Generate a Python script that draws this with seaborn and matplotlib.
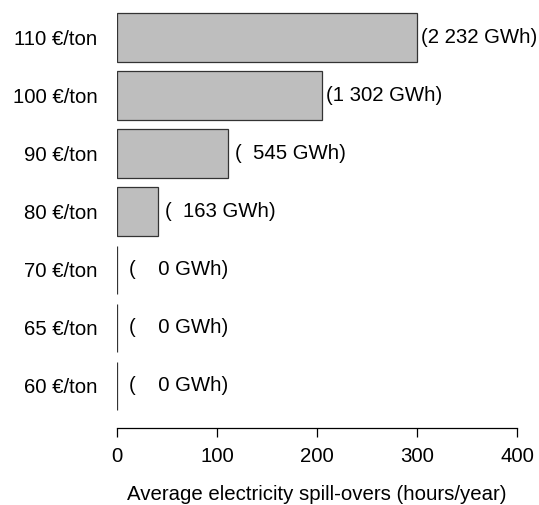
import pandas as pd
import seaborn as sns
from matplotlib import pyplot as plt

# CO2 price levels and the average spill-over hours
prices = ['110 €/ton', '100 €/ton', '90 €/ton', '80 €/ton', '70 €/ton', '65 €/ton', '60 €/ton']
hours = [300, 205, 111, 41, 0, 0, 0]
gwh_labels = ['(2 232 GWh)', '(1 302 GWh)', '(  545 GWh)', '(  163 GWh)',
              '(    0 GWh)', '(    0 GWh)', '(    0 GWh)']

df = pd.DataFrame({'Price': prices, 'Hours': hours})

sns.set_style('white')
plt.rcParams['font.family'] = ['Liberation Sans', 'DejaVu Sans']
fs = 14.7

W, H = 539, 505
fig = plt.figure(figsize=(W / 100, H / 100), dpi=100)
ax = fig.add_axes([117 / W, 1 - 428 / H, 400 / W, (428 - 8.5) / H])

sns.barplot(data=df, x='Hours', y='Price', order=prices, color='#bebebe',
            edgecolor='#333333', linewidth=0.9, width=0.83, saturation=1, ax=ax)

# labels centred a fixed distance right of each bar end, like the original
for i, (h, lab) in enumerate(zip(hours, gwh_labels)):
    ax.text(h + 62, i, lab, ha='center', va='center', fontsize=fs, color='black')

ax.set_xlim(0, 400)
ax.set_ylim(6.73, -0.5)
ax.set_xticks([0, 100, 200, 300, 400])
ax.set_xlabel('Average electricity spill-overs (hours/year)', fontsize=fs,
              labelpad=14, color='black')
ax.set_ylabel('')

for side in ['top', 'right', 'left']:
    ax.spines[side].set_visible(False)
ax.spines['bottom'].set_color('black')
ax.spines['bottom'].set_linewidth(0.9)

ax.tick_params(axis='x', direction='out', length=6.5, width=0.9, color='black',
               labelsize=fs, labelcolor='black', pad=7, bottom=True)
ax.tick_params(axis='y', length=0, labelsize=fs, labelcolor='black', pad=14)

fig.savefig('out.png', dpi=100)
